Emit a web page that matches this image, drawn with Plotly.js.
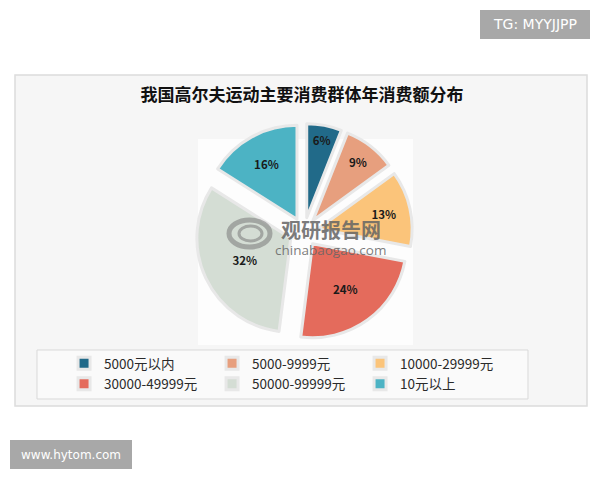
<!DOCTYPE html>
<html>
<head>
<meta charset="utf-8">
<script src="https://cdn.plot.ly/plotly-3.0.1.min.js"></script>
<style>html,body{margin:0;padding:0;background:#fff}#chart{width:600px;height:480px}</style>
</head>
<body>
<div id="chart"></div>
<script>
// ---- data ----
var categories = ['5000元以内', '5000-9999元', '10000-29999元', '30000-49999元', '50000-99999元', '10元以上'];
var shares = [6, 9, 13, 24, 32, 16];
var sliceColors = ['#216a89', '#e79f7e', '#fbc47a', '#e46b5c', '#d4ddd4', '#4cb3c4'];
var chartTitle = '我国高尔夫运动主要消费群体年消费额分布';

var W = 600, H = 480;
function px(x) { return x / W; }
function py(y) { return 1 - y / H; }

var trace = {
  type: 'pie',
  labels: categories,
  values: shares,
  sort: false,
  direction: 'clockwise',
  rotation: 0,
  pull: 0.155,
  hole: 0,
  marker: { colors: sliceColors, line: { color: '#e8e8e8', width: 3 } },
  texttemplate: '%{value}%',
  textposition: 'inside',
  insidetextorientation: 'horizontal',
  textfont: { family: 'Noto Sans CJK SC', size: 11.5, color: '#1a1a1a', weight: 'bold' },
  domain: { x: [px(195.5), px(412.5)], y: [py(340.5), py(123.5)] },
  hoverinfo: 'label+percent'
};

var layout = {
  width: W, height: H,
  margin: { l: 0, r: 0, t: 0, b: 0 },
  paper_bgcolor: '#ffffff',
  font: { family: 'Noto Sans CJK SC, Noto Sans, sans-serif', color: '#333' },
  title: {
    text: chartTitle,
    x: px(302), xanchor: 'center', xref: 'paper',
    y: py(95), yanchor: 'middle', yref: 'paper',
    font: { family: 'Noto Sans CJK SC', size: 17, color: '#111', weight: 'bold' }
  },
  showlegend: true,
  legend: {
    orientation: 'h',
    x: px(83), xanchor: 'left',
    y: py(348), yanchor: 'top',
    entrywidth: 103, entrywidthmode: 'pixels',
    bgcolor: 'rgba(0,0,0,0)', borderwidth: 0,
    traceorder: 'normal',
    font: { family: 'Noto Sans CJK SC', size: 13.5, color: '#2a2a2a' }
  },
  shapes: [
    // outer chart frame
    { type: 'rect', xref: 'paper', yref: 'paper', layer: 'below',
      x0: px(15), x1: px(587), y0: py(406), y1: py(75),
      fillcolor: '#f6f6f6', line: { color: '#dcdcdc', width: 1.5 } },
    // whiter plot area behind pie
    { type: 'rect', xref: 'paper', yref: 'paper', layer: 'below',
      x0: px(198), x1: px(413), y0: py(345), y1: py(139),
      fillcolor: '#fdfdfd', line: { width: 0 } },
    // legend box
    { type: 'rect', xref: 'paper', yref: 'paper', layer: 'below',
      x0: px(37), x1: px(528), y0: py(399), y1: py(350),
      fillcolor: '#fafafa', line: { color: '#d9d9d9', width: 1 } },
    // TG box
    { type: 'rect', xref: 'paper', yref: 'paper', layer: 'above',
      x0: px(480), x1: px(590), y0: py(39), y1: py(10),
      fillcolor: '#a8a8a8', line: { width: 0 } },
    // hytom box
    { type: 'rect', xref: 'paper', yref: 'paper', layer: 'above',
      x0: px(10), x1: px(132), y0: py(469), y1: py(440),
      fillcolor: '#a8a8a8', line: { width: 0 } },
    // watermark logo arcs
    { type: 'circle', xref: 'paper', yref: 'paper', layer: 'above',
      x0: px(229), x1: px(270), y0: py(247), y1: py(220),
      fillcolor: 'rgba(0,0,0,0)', line: { color: 'rgba(120,120,120,0.55)', width: 5 } },
    { type: 'circle', xref: 'paper', yref: 'paper', layer: 'above',
      x0: px(239), x1: px(262), y0: py(241), y1: py(226),
      fillcolor: 'rgba(0,0,0,0)', line: { color: 'rgba(120,120,120,0.55)', width: 3 } }
  ],
  annotations: [
    { text: '观研报告网', xref: 'paper', yref: 'paper', x: px(331), y: py(229),
      xanchor: 'center', yanchor: 'middle', showarrow: false,
      font: { family: 'Noto Sans CJK SC', size: 20, color: 'rgba(100,100,100,0.85)', weight: 'bold' } },
    { text: 'chinabaogao.com', xref: 'paper', yref: 'paper', x: px(330), y: py(250),
      xanchor: 'center', yanchor: 'middle', showarrow: false,
      font: { family: 'Open Sans', size: 13.5, color: 'rgba(100,100,100,0.85)' } },
    { text: 'TG: MYYJJPP', xref: 'paper', yref: 'paper', x: px(535), y: py(24.5),
      xanchor: 'center', yanchor: 'middle', showarrow: false,
      font: { family: 'DejaVu Sans', size: 14, color: '#ffffff' } },
    { text: 'www.hytom.com', xref: 'paper', yref: 'paper', x: px(71), y: py(454.5),
      xanchor: 'center', yanchor: 'middle', showarrow: false,
      font: { family: 'DejaVu Sans', size: 12, color: '#ffffff' } }
  ]
};

Plotly.newPlot('chart', [trace], layout, { displayModeBar: false, staticPlot: true });
</script>
</body>
</html>
